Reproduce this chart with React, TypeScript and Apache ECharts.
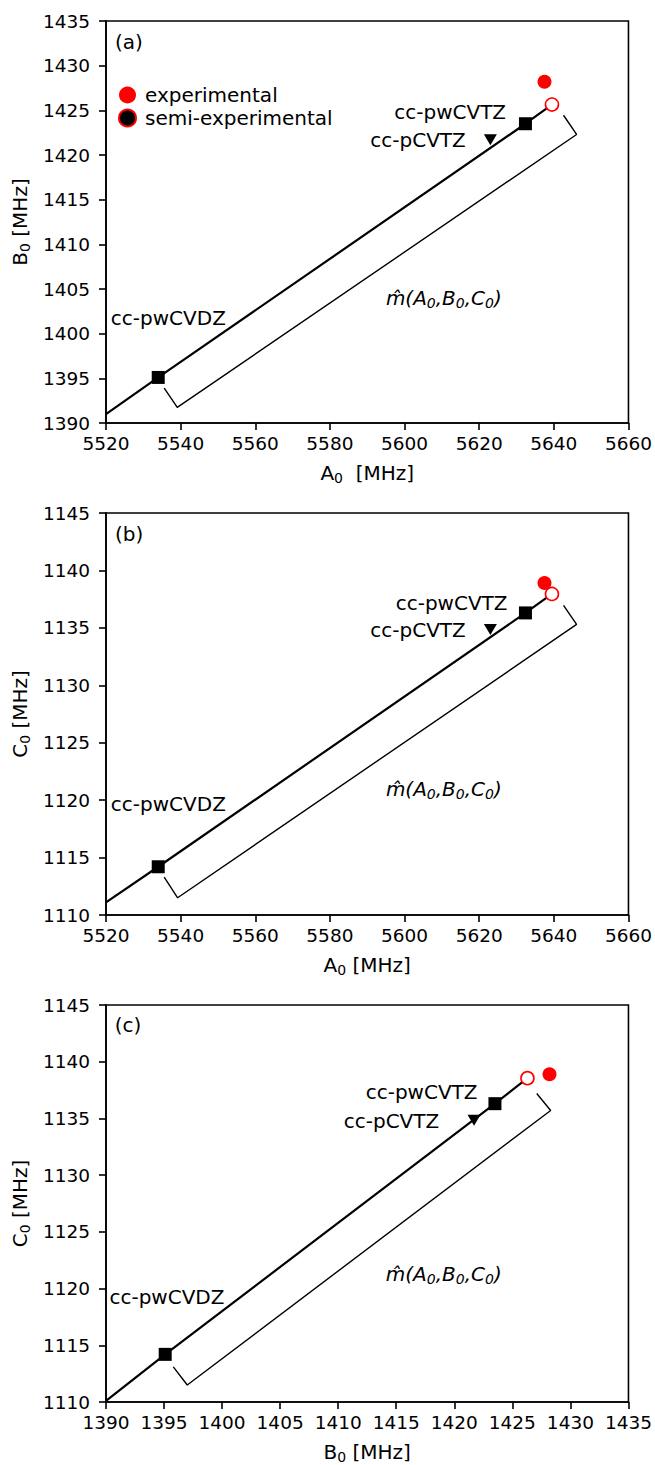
import React, { useEffect, useRef } from "react";
import * as echarts from "echarts";

const FONT = "DejaVu Sans";

// calculated levels
const levelNames = ["cc-pwCVDZ", "cc-pCVTZ", "cc-pwCVTZ"];
const A0calc = [5534.0, 5623.0, 5632.4];
const B0calc = [1395.1, 1421.7, 1423.5];
const C0calc = [1114.2, 1134.85, 1136.3];

// experimental
const expA0 = 5637.5;
const expB0 = 1428.2;
const expC0 = 1138.9;

// semi-experimental point as drawn in each panel
const semiAB = [5639.5, 1425.65];
const semiAC = [5639.5, 1137.95];
const semiBC = [1426.3, 1138.55];

// extrapolation line start in each panel
const startAB = [5520, 1391.0];
const startAC = [5520, 1111.1];
const startBC = [1390, 1110.1];

// bracket outlines
const bracketAB = [[5535.6, 1393.9], [5539.1, 1391.75], [5646.1, 1422.3], [5642.6, 1424.45]];
const bracketAC = [[5535.6, 1113.3], [5539.2, 1111.5], [5646.1, 1135.3], [5642.6, 1136.95]];
const bracketBC = [[1395.8, 1113.1], [1397.0, 1111.5], [1428.3, 1135.7], [1427.1, 1137.2]];

// axis ranges [min, max, interval]
const axisA0 = [5520, 5660, 20];
const axisB0x = [1390, 1435, 5];
const axisB0y = [1390, 1435, 5];
const axisC0 = [1110, 1145, 5];

// text anchors per panel: [pwCVDZ(left), pCVTZ(right), pwCVTZ(right), mhat(left), panel letter(left)]
const textAB = [[5521.3, 1401.7], [5616.4, 1421.7], [5627.2, 1424.8], [5595.0, 1404.0], [5522.4, 1432.65]];
const textAC = [[5521.3, 1119.7], [5616.4, 1134.8], [5627.6, 1137.2], [5595.0, 1120.95], [5522.4, 1143.2]];
const textBC = [[1390.3, 1119.3], [1418.7, 1134.75], [1422.0, 1137.3], [1414.1, 1121.3], [1390.75, 1143.2]];
const panelLetters = ["(a)", "(b)", "(c)"];

const GRID_TOPS = [21, 513, 1005];

const richName = {
  m: { fontSize: 20, fontFamily: FONT, color: "#000", lineHeight: 24 },
  s: { fontSize: 14, fontFamily: FONT, color: "#000", lineHeight: 14, padding: [10, 0, 0, 0] },
};

const richText = {
  t: { fontSize: 20, fontFamily: FONT, color: "#000", lineHeight: 24 },
  i: { fontSize: 20, fontFamily: FONT, fontStyle: "italic", color: "#000", lineHeight: 24 },
  s: { fontSize: 14, fontFamily: FONT, fontStyle: "italic", color: "#000", lineHeight: 14, padding: [10, 0, 0, 0] },
};

function makeAxis(i: number, range: number[], name: string, isX: boolean) {
  return {
    type: "value",
    gridIndex: i,
    min: range[0],
    max: range[1],
    interval: range[2],
    name,
    nameLocation: "middle",
    nameGap: isX ? 38 : 64,
    nameTextStyle: { rich: richName },
    axisLine: { show: true, onZero: false, lineStyle: { color: "#000", width: 1.6 } },
    axisTick: { show: true, inside: false, length: 7, lineStyle: { color: "#000", width: 1.6 } },
    axisLabel: {
      color: "#000",
      fontSize: 18.5,
      fontFamily: FONT,
      margin: isX ? 11 : 16,
      showMinLabel: true,
      showMaxLabel: true,
      formatter: (v: number) => String(v),
    },
    splitLine: { show: false },
  };
}

function panelSeries(
  i: number,
  xs: number[],
  ys: number[],
  exp: number[],
  semi: number[],
  start: number[],
  bracket: number[][],
  texts: number[][]
) {
  const common = { xAxisIndex: i, yAxisIndex: i, silent: true };
  const pts = xs.map((x, k) => [x, ys[k]]);
  const lbl = (pos: number[], text: string, align: string) => ({
    value: pos,
    label: {
      show: true,
      formatter: text,
      position: [0, 0],
      align,
      verticalAlign: "middle",
      color: "#000",
      opacity: 1,
      rich: richText,
    },
  });
  return [
    {
      ...common,
      type: "line",
      data: [start, pts[0], pts[2], semi],
      symbol: "none",
      lineStyle: { color: "#000", width: 2.2 },
      z: 2,
    },
    {
      ...common,
      type: "line",
      data: bracket,
      symbol: "none",
      lineStyle: { color: "#000", width: 1.4 },
      z: 2,
    },
    {
      ...common,
      type: "scatter",
      data: [pts[0], pts[2]],
      symbol: "rect",
      symbolSize: 13,
      itemStyle: { color: "#000", opacity: 1 },
      z: 3,
    },
    {
      ...common,
      type: "scatter",
      data: [pts[1]],
      symbol: "triangle",
      symbolRotate: 180,
      symbolSize: [13, 11],
      itemStyle: { color: "#000", opacity: 1 },
      z: 3,
    },
    {
      ...common,
      name: "experimental",
      type: "scatter",
      data: [exp],
      symbol: "circle",
      symbolSize: 14,
      itemStyle: { color: "#ff0000", opacity: 1 },
      z: 4,
    },
    {
      ...common,
      name: "semi-experimental",
      type: "scatter",
      data: [semi],
      symbol: "circle",
      symbolSize: 13,
      itemStyle: { color: "#ffffff", borderColor: "#ff0000", borderWidth: 1.6, opacity: 1 },
      z: 4,
    },
    {
      ...common,
      type: "scatter",
      symbolSize: 0,
      itemStyle: { color: "transparent", opacity: 1 },
      z: 5,
      data: [
        lbl(texts[0], "{t|" + levelNames[0] + "}", "left"),
        lbl(texts[1], "{t|" + levelNames[1] + "}", "right"),
        lbl(texts[2], "{t|" + levelNames[2] + "}", "right"),
        lbl(texts[3], "{i|m\u0302(A}{s|0}{i|,B}{s|0}{i|,C}{s|0}{i|)}", "left"),
        lbl(texts[4], "{t|" + panelLetters[i] + "}", "left"),
      ],
    },
  ];
}

export default function App() {
  const ref = useRef<HTMLDivElement>(null);
  useEffect(() => {
    if (!ref.current) return;
    const chart = echarts.init(ref.current, null, { renderer: "svg" });
    const grids = GRID_TOPS.map((top) => ({
      left: 101,
      top,
      width: 531,
      height: 402,
      show: true,
      borderColor: "#000",
      borderWidth: 1.6,
      backgroundColor: "transparent",
      containLabel: false,
    }));
    const option = {
      animation: false,
      backgroundColor: "#fff",
      grid: grids,
      legend: {
        show: true,
        orient: "vertical",
        left: 113,
        top: 80,
        itemWidth: 17,
        itemHeight: 17,
        itemGap: 3,
        selectedMode: false,
        textStyle: { fontSize: 20, fontFamily: FONT, color: "#000", padding: [0, 0, 0, 4] },
        data: [
          { name: "experimental", icon: "circle", itemStyle: { color: "#ff0000", borderWidth: 0, opacity: 1 } },
          {
            name: "semi-experimental",
            icon: "circle",
            itemStyle: { color: "#000000", borderColor: "#ff0000", borderWidth: 2, opacity: 1 },
          },
        ],
      },
      xAxis: [
        makeAxis(0, axisA0, "{m|A}{s|0}{m|  [MHz]}", true),
        makeAxis(1, axisA0, "{m|A}{s|0}{m| [MHz]}", true),
        makeAxis(2, axisB0x, "{m|B}{s|0}{m| [MHz]}", true),
      ],
      yAxis: [
        makeAxis(0, axisB0y, "{m|B}{s|0}{m| [MHz]}", false),
        makeAxis(1, axisC0, "{m|C}{s|0}{m| [MHz]}", false),
        makeAxis(2, axisC0, "{m|C}{s|0}{m| [MHz]}", false),
      ],
      series: [
        ...panelSeries(0, A0calc, B0calc, [expA0, expB0], semiAB, startAB, bracketAB, textAB),
        ...panelSeries(1, A0calc, C0calc, [expA0, expC0], semiAC, startAC, bracketAC, textAC),
        ...panelSeries(2, B0calc, C0calc, [expB0, expC0], semiBC, startBC, bracketBC, textBC),
      ],
    };
    chart.setOption(option as any);
    return () => chart.dispose();
  }, []);
  return (
    <div
      ref={ref}
      style={{ position: "absolute", left: 0, top: 0, width: 655, height: 1465, background: "#fff" }}
    />
  );
}
